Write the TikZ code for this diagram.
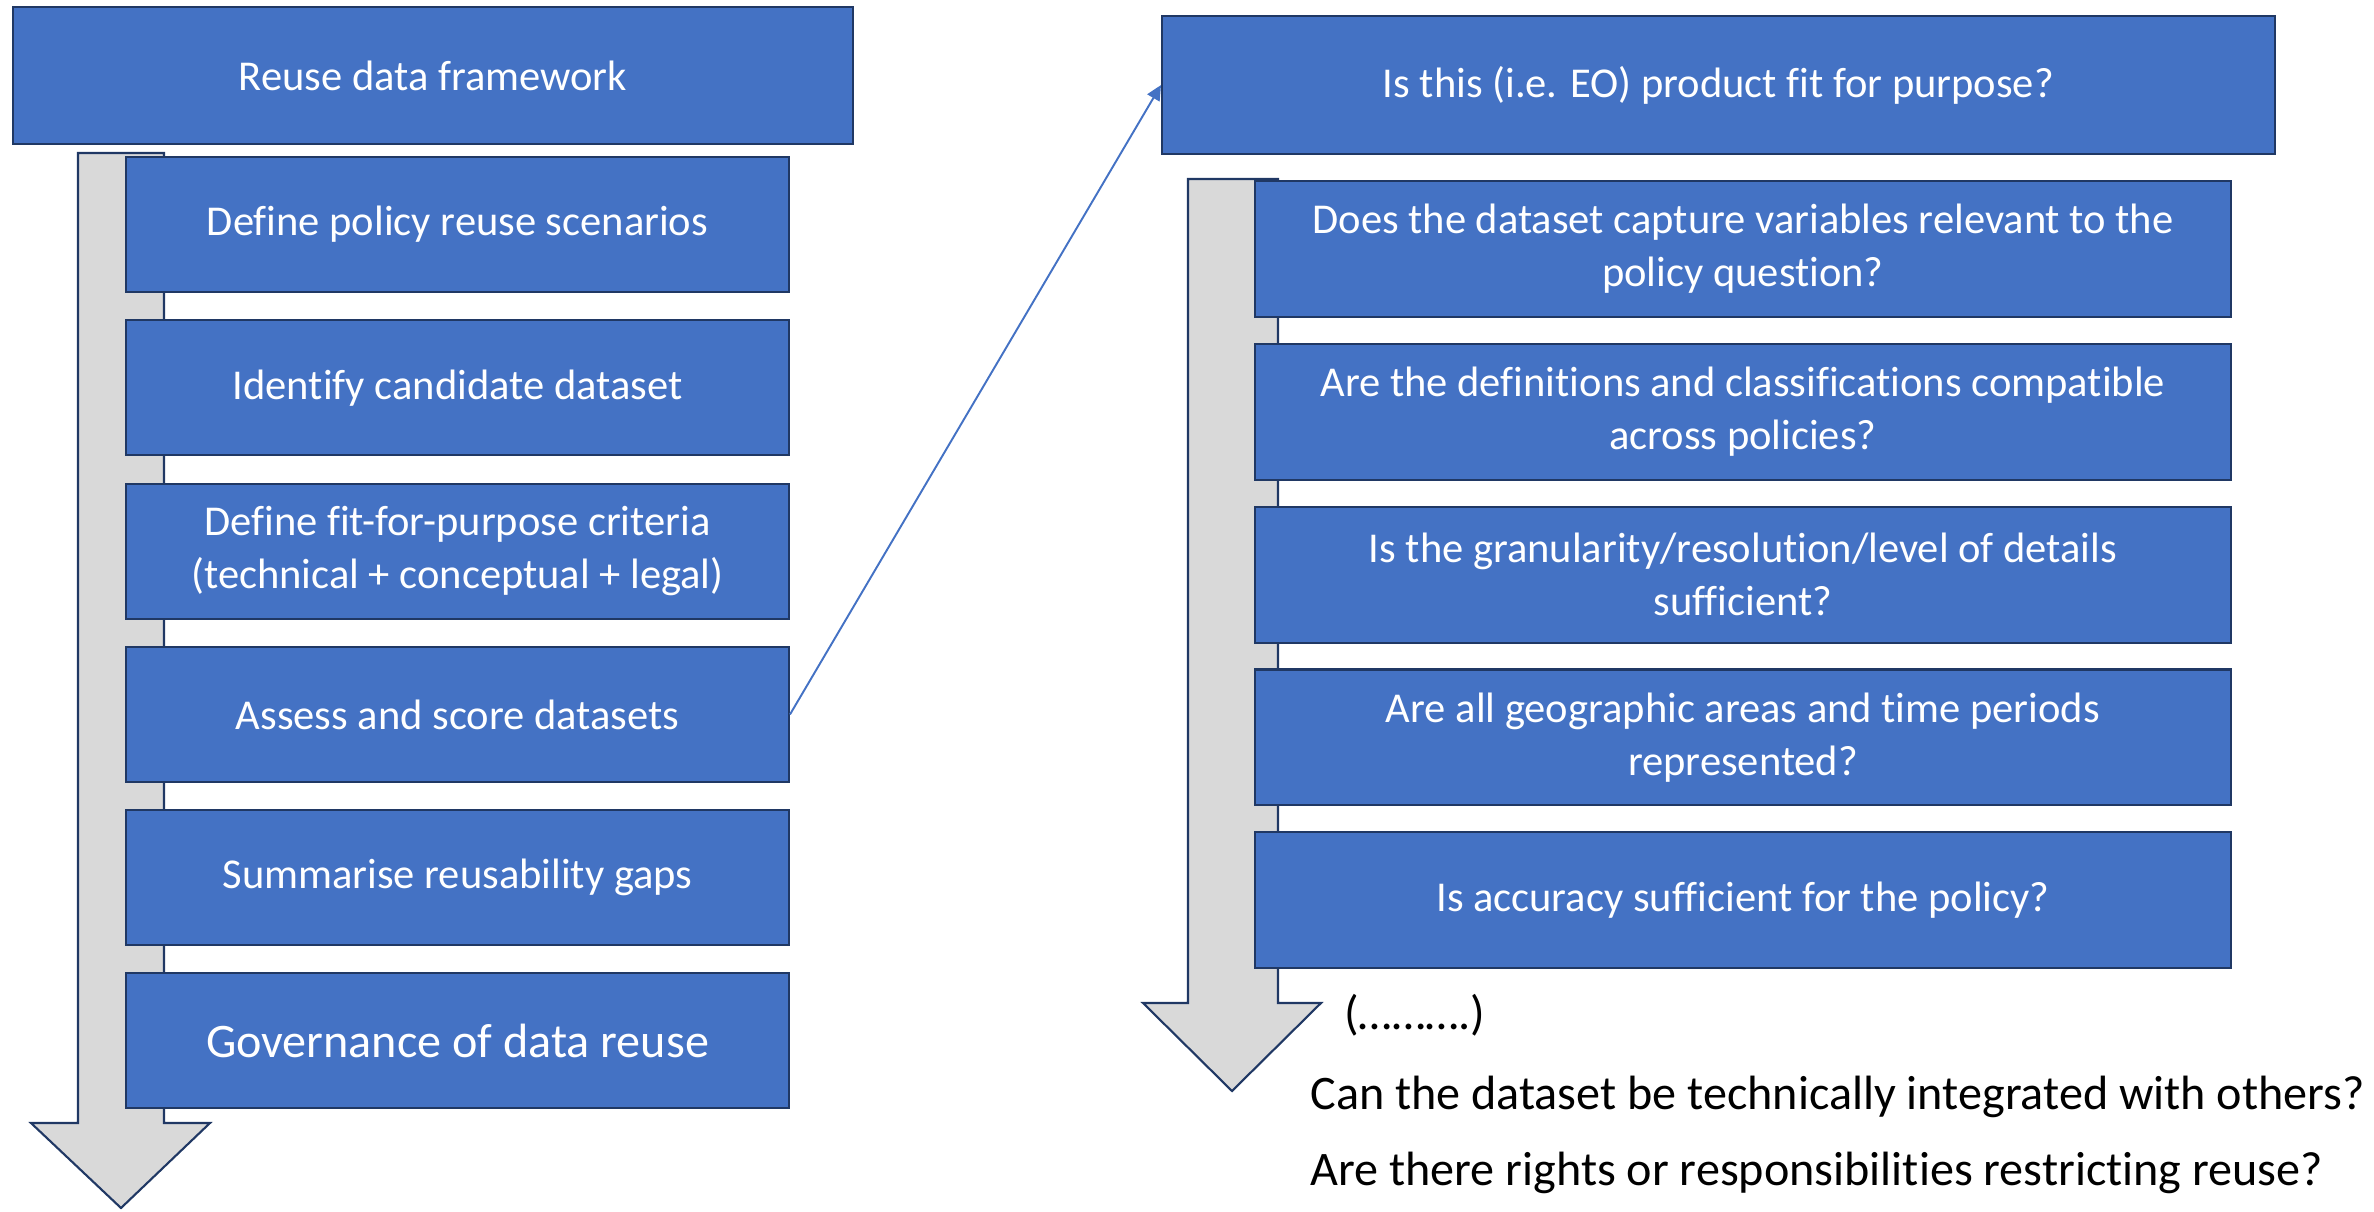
\documentclass[tikz,border=0pt]{standalone}
\usepackage{fontspec}
\setmainfont{Carlito}[Ligatures=CommonOff]
\usetikzlibrary{arrows.meta}
\definecolor{boxblue}{HTML}{4472C4}
\definecolor{boxline}{HTML}{203864}
\definecolor{shaftgray}{HTML}{D9D9D9}
\tikzset{
  stepbox/.style={draw=boxline, fill=boxblue, line width=1.2pt, text=white,
    font=\fontsize{24.2}{30.2}\selectfont, align=center, anchor=north west,
    inner sep=0pt, minimum height=2.7cm},
  flowarrow/.style={draw=boxline, fill=shaftgray, line width=1.2pt, line join=miter},
  plaintext/.style={anchor=west, inner sep=0pt, font=\fontsize{27.4}{32}\selectfont}
}
\begin{document}
\begin{tikzpicture}[x=0.02cm, y=-0.02cm]
    \useasboundingbox (0,0) rectangle (2374,1211);
    \draw[flowarrow] (78,153) -- (164,153) -- (164,1123) -- (210,1123) -- (121,1208)
        -- (31,1123) -- (78,1123) -- cycle;
    \draw[flowarrow] (1188,179) -- (1278,179) -- (1278,1003) -- (1321,1003) -- (1232,1091)
        -- (1143,1003) -- (1188,1003) -- cycle;
    \node[stepbox, minimum width=16.8cm, minimum height=2.74cm] (frame) at (12,6) {Reuse data framework};
    \foreach \txt [count=\i] in {Define policy reuse scenarios, Identify candidate dataset,
        {Define fit-for-purpose criteria\\(technical + conceptual + legal)},
        Assess and score datasets, Summarise reusability gaps}
        \node[stepbox, minimum width=13.26cm] (l\i) at (125,{156+163.3*(\i-1)}) {\txt};
    \node[stepbox, minimum width=13.26cm, font=\fontsize{27.4}{32}\selectfont] (l6) at (125,972) {Governance of data reuse};
    \node[stepbox, minimum width=22.26cm, minimum height=2.76cm] (fit) at (1161,15) {Is this (i.e. EO) product fit for purpose?};
    \foreach \txt [count=\i] in {{Does the dataset capture variables relevant to the\\policy question?},
        {Are the definitions and classifications compatible\\across policies?},
        {Is the granularity/resolution/level of details\\sufficient?},
        {Are all geographic areas and time periods\\represented?},
        Is accuracy sufficient for the policy?}
        \node[stepbox, minimum width=19.52cm, minimum height=2.72cm] (r\i) at (1254,{180+162.8*(\i-1)}) {\txt};
    \draw[boxblue, line width=1.1pt, -{Triangle[length=0.3cm, width=0.28cm]}] (l4.east) -- (fit.west);
    \node[plaintext] (more) at (1344,1015) {(……….)};
    \node[plaintext] (tech) at (1310,1097) {Can the dataset be technically integrated with others?};
    \node[plaintext] (rights) at (1310,1173) {Are there rights or responsibilities restricting reuse?};
\end{tikzpicture}
\end{document}
